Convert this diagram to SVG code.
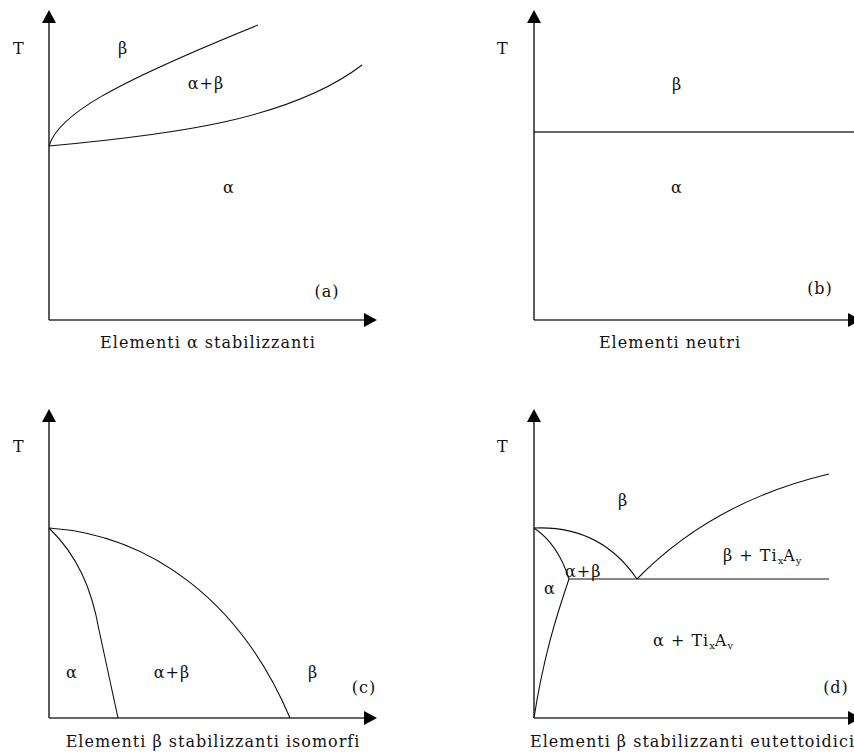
<svg xmlns="http://www.w3.org/2000/svg" width="854" height="753" viewBox="0 0 854 753">
<style>
text{font-family:"DejaVu Serif","Liberation Serif",serif;font-size:16px;letter-spacing:1px;fill:#111}
.ax{stroke:#333;stroke-width:1.6;fill:none}
.cv{stroke:#111;stroke-width:1.1;fill:none}
.sub{font-size:10px;letter-spacing:0}
</style>
<defs>
<marker id="arr" viewBox="0 0 13 14" markerWidth="13" markerHeight="14" refX="0" refY="7" orient="auto" markerUnits="userSpaceOnUse">
<path d="M0,0 L13,7 L0,14 z" fill="#000"/>
</marker>
</defs>
<rect width="854" height="753" fill="#fff"/>
<g id="connectors">
<line class="ax" x1="49" y1="320" x2="49" y2="23" marker-end="url(#arr)"/>
<line class="ax" x1="49" y1="320" x2="364" y2="320" marker-end="url(#arr)"/>
<line class="ax" x1="534" y1="320" x2="534" y2="23" marker-end="url(#arr)"/>
<line class="ax" x1="534" y1="320" x2="848" y2="320" marker-end="url(#arr)"/>
<line class="ax" x1="49" y1="718" x2="49" y2="422" marker-end="url(#arr)"/>
<line class="ax" x1="49" y1="718" x2="364" y2="718" marker-end="url(#arr)"/>
<line class="ax" x1="534" y1="718" x2="534" y2="422" marker-end="url(#arr)"/>
<line class="ax" x1="534" y1="718" x2="848" y2="718" marker-end="url(#arr)"/>
</g>
<g id="panel-a">
<path class="cv" d="M49,146 C58,115 110,85 258,25"/>
<path class="cv" d="M49,146 C170,135 290,120 362,65"/>
<text x="13" y="54">T</text>
<text x="123" y="54" text-anchor="middle">β</text>
<text x="206" y="89" text-anchor="middle">α+β</text>
<text x="229" y="193" text-anchor="middle">α</text>
<text x="327" y="297" text-anchor="middle">(a)</text>
<text x="208" y="348" text-anchor="middle">Elementi α stabilizzanti</text>
</g>
<g id="panel-b">
<line class="ax" x1="534" y1="132" x2="854" y2="132"/>
<text x="497" y="54">T</text>
<text x="677" y="90" text-anchor="middle">β</text>
<text x="677" y="193" text-anchor="middle">α</text>
<text x="820" y="294" text-anchor="middle">(b)</text>
<text x="670" y="348" text-anchor="middle">Elementi neutri</text>
</g>
<g id="panel-c">
<path class="cv" d="M49,528 C150,535 240,600 290,718"/>
<path class="cv" d="M49,528 C78,556 92,590 99,630 L118,718"/>
<text x="13" y="452">T</text>
<text x="72" y="678" text-anchor="middle">α</text>
<text x="172" y="678" text-anchor="middle">α+β</text>
<text x="313" y="678" text-anchor="middle">β</text>
<text x="364" y="693" text-anchor="middle">(c)</text>
<text x="213" y="747" text-anchor="middle">Elementi β stabilizzanti isomorfi</text>
</g>
<g id="panel-d">
<path class="cv" d="M534,528 C552,540 563,560 569,579"/>
<path class="cv" d="M569,579 C555,620 543,660 534,718"/>
<path class="cv" d="M534,528 Q600,525 637,579"/>
<path class="cv" d="M637,579 C680,535 740,495 829,474"/>
<line class="cv" x1="569" y1="579" x2="829" y2="579"/>
<text x="497" y="452">T</text>
<text x="623" y="506" text-anchor="middle">β</text>
<text x="723" y="561">β + Ti<tspan class="sub" dy="3">x</tspan><tspan dy="-3">A</tspan><tspan class="sub" dy="3">y</tspan></text>
<text x="565" y="577">α+β</text>
<text x="544" y="594">α</text>
<text x="653" y="646">α + Ti<tspan class="sub" dy="3">x</tspan><tspan dy="-3">A</tspan><tspan class="sub" dy="3">v</tspan></text>
<text x="836" y="693" text-anchor="middle">(d)</text>
<text x="530" y="747">Elementi β stabilizzanti eutettoidici</text>
</g>
</svg>
